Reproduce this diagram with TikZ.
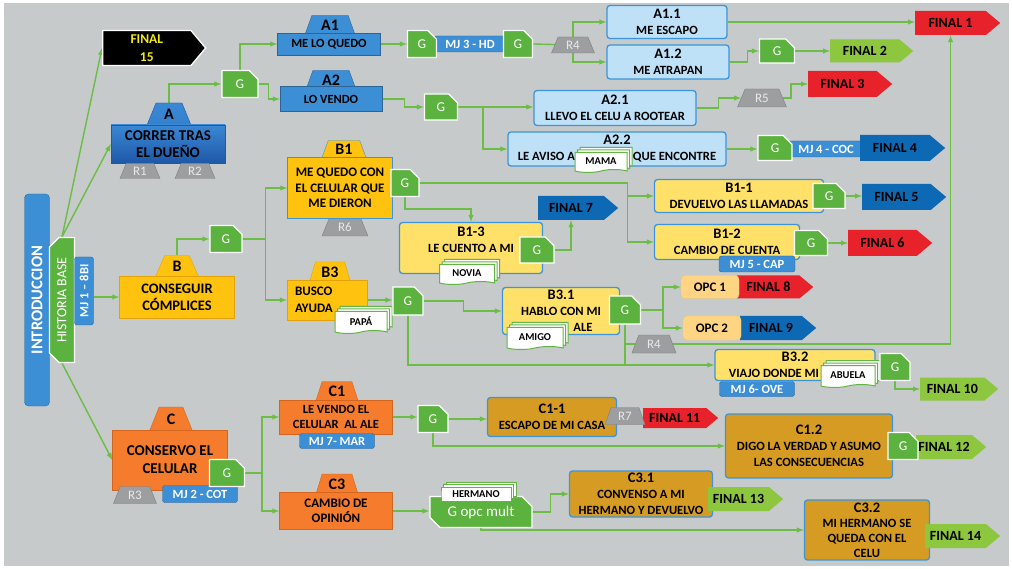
\documentclass[tikz,border=0pt]{standalone}
\usepackage{fontspec}
\setmainfont{Carlito}
\usepackage{graphicx}
\usetikzlibrary{shapes.geometric}
\usetikzlibrary{arrows,shapes,shadows}
\usetikzlibrary{calc,backgrounds}

\definecolor{bggray}{HTML}{C6CACB}
\definecolor{lnkgreen}{HTML}{6CBD45}
\definecolor{ggreen}{HTML}{5CB23F}
\definecolor{ablueT}{HTML}{3A88D4}
\definecolor{ablueB}{HTML}{1E58A8}
\definecolor{mblue}{HTML}{3D8FD5}
\definecolor{lblue}{HTML}{BFE1F8}
\definecolor{lborder}{HTML}{3C95DA}
\definecolor{fred}{HTML}{E8222B}
\definecolor{fgreen}{HTML}{8DC63F}
\definecolor{fblue}{HTML}{0D69B4}
\definecolor{fyellow}{HTML}{F3EA10}
\definecolor{byellow}{HTML}{FFC30F}
\definecolor{bborder}{HTML}{E3A20B}
\definecolor{lyellow}{HTML}{FFE169}
\definecolor{opcyel}{HTML}{FFD584}
\definecolor{corange}{HTML}{F47C2C}
\definecolor{cborder}{HTML}{D4651E}
\definecolor{dgold}{HTML}{D59B23}
\definecolor{rgray}{HTML}{9C9EA0}
\definecolor{rtext}{HTML}{E9E9E9}
\definecolor{docgreen}{HTML}{62B544}

\newcommand{\hd}[1]{{\fontsize{14.5}{15}\selectfont #1}}

\begin{document}
\begin{tikzpicture}[x=1pt, y=-1pt, >=latex,
            every node/.style = {align=center, inner sep=0pt},
            sz/.style 2 args = {minimum width=#1pt, minimum height=#2pt},
            link/.style = {draw=lnkgreen, line width=1.4pt},
            intro/.style = {rectangle, rounded corners=4pt, fill=mblue, draw=mblue!75!black, text=white, font=\bfseries\fontsize{16.5}{17}\selectfont},
            hist/.style = {chamfered rectangle, chamfered rectangle corners={north west, south west}, chamfered rectangle xsep=5pt, chamfered rectangle ysep=5pt, fill=ggreen, draw=white, line width=1.2pt, text=white, font=\fontsize{14}{14}\selectfont},
            gnode/.style = {chamfered rectangle, chamfered rectangle corners=north east, chamfered rectangle xsep=5pt, chamfered rectangle ysep=5pt, fill=ggreen, draw=white, line width=1.2pt, text=white, font=\fontsize{13.5}{14}\selectfont},
            mj/.style = {rectangle, rounded corners=2.5pt, fill=mblue, draw=mblue!70!black, text=white, font=\bfseries\fontsize{12.5}{13}\selectfont},
            rtag/.style = {trapezium, trapezium stretches=true, trapezium left angle=70, trapezium right angle=70, fill=rgray, draw=rgray!80!black, text=rtext, font=\fontsize{13}{13}\selectfont},
            tab/.style = {trapezium, trapezium stretches=true, trapezium left angle=72, trapezium right angle=72, font=\bfseries\fontsize{16}{16}\selectfont},
            fin/.style = {signal, signal to=east, signal pointer angle=80, anchor=west, font=\bfseries\fontsize{14}{14}\selectfont},
            abox/.style = {rectangle, top color=ablueT, bottom color=ablueB, draw=ablueB, font=\bfseries\fontsize{15}{17}\selectfont},
            bbox/.style = {rectangle, fill=mblue, draw=mblue!70!black, font=\bfseries\fontsize{12.5}{14}\selectfont},
            ybox/.style = {rectangle, fill=byellow, draw=bborder, font=\bfseries\fontsize{14.5}{17}\selectfont},
            obox/.style = {rectangle, fill=corange, draw=cborder, font=\bfseries\fontsize{13}{15}\selectfont},
            lbox/.style = {rectangle, rounded corners=3pt, line width=1.3pt, draw=lborder, font=\bfseries\fontsize{12.6}{16}\selectfont},
            opc/.style = {rectangle, rounded corners=4pt, fill=opcyel, draw=bborder!60, font=\bfseries\fontsize{13}{13}\selectfont},
            doc/.style = {tape, tape bend top=none, tape bend height=3pt, fill=white, draw=docgreen, line width=1pt, font=\bfseries\fontsize{10.5}{11}\selectfont,
                double copy shadow={shadow xshift=2.5pt, shadow yshift=2.5pt, fill=white, draw=docgreen, line width=1pt}}
            ]
            \useasboundingbox (0,0) rectangle (1012,569);
            \begin{pgfonlayer}{background}
                \fill[bggray] (4,3) rectangle (1009,566);
            \end{pgfonlayer}

            % base
            \node[intro, sz={25}{212}] (intro) at (37,300) {\rotatebox{90}{INTRODUCCION}};
            \node[hist, sz={25}{125}] (hist) at (62,300) {\rotatebox{90}{HISTORIA BASE}};
            \node[mj, sz={19}{68}] (mj1) at (84,291) {\rotatebox{90}{MJ 1 – 8BI}};
            \node[fin, signal pointer angle=100, fill=black, draw=white, line width=1.3pt, text=fyellow, font=\bfseries\fontsize{13.5}{18}\selectfont, sz={103}{35}] (fin15) at (102,48) {FINAL\\15};

            % rama A
            \node[tab, top color=ablueT, bottom color=ablueT!85!ablueB, draw=ablueB, sz={44}{22}] (atab) at (169,114) {A};
            \node[abox, sz={114}{38}] (a) at (168,144) {CORRER TRAS\\EL DUEÑO};
            \node[rtag, sz={40}{15}] (r1) at (140,171) {R1};
            \node[rtag, sz={40}{15}] (r2) at (195,171) {R2};
            \node[gnode, sz={36}{27}] (ga) at (240,84) {G};
            \node[tab, fill=mblue, draw=mblue!70!black, sz={50}{19}] (a1tab) at (330,25) {A1};
            \node[bbox, sz={103}{22}] (a1) at (329,44) {ME LO QUEDO};
            \node[tab, fill=mblue, draw=mblue!70!black, sz={50}{19}] (a2tab) at (331,80) {A2};
            \node[bbox, sz={102}{25}] (a2) at (331,99) {LO VENDO};
            \node[mj, sz={72}{16}] (mj3) at (470,44) {MJ 3 - HD};
            \node[gnode, sz={29}{27}] (g1a) at (422,44) {G};
            \node[gnode, sz={29}{27}] (g1b) at (518,44) {G};
            \node[rtag, sz={43}{16}] (r4a) at (573,45) {R4};
            \node[lbox, fill=lblue, sz={120}{33}] (a11) at (667,22) {\hd{A1.1}\\ME ESCAPO};
            \node[lbox, fill=lblue, sz={122}{34}] (a12) at (668,62) {\hd{A1.2}\\ME ATRAPAN};
            \node[fin, fill=fred, sz={85}{24}] (fin1) at (915,23) {FINAL 1};
            \node[gnode, sz={35}{24}] (g12) at (777,51) {G};
            \node[fin, fill=fgreen, sz={83}{23}] (fin2) at (830,51) {FINAL 2};
            \node[gnode, sz={33}{26}] (ga2) at (441,107) {G};
            \node[lbox, fill=lblue, sz={162}{35}] (a21) at (615,108) {\hd{A2.1}\\LLEVO EL CELU A ROOTEAR};
            \node[rtag, sz={49}{18}] (r5) at (762,98) {R5};
            \node[fin, fill=fred, sz={84}{26}] (fin3) at (808,84) {FINAL 3};
            \node[lbox, fill=lblue, sz={218}{34}] (a22) at (617,149) {\hd{A2.2}\\LE AVISO A\hspace*{58pt}QUE ENCONTRE};
            \node[doc, sz={52}{20}] (mama) at (601,161) {MAMA};
            \node[mj, sz={77}{16}] (mj4) at (826,149) {MJ 4 - COC};
            \node[gnode, sz={34}{25}] (g22) at (775,148) {G};
            \node[fin, fill=fblue, sz={85}{26}] (fin4) at (860,148) {FINAL 4};

            % rama B
            \node[tab, fill=byellow, draw=bborder, sz={43}{21}] (btab) at (177,266) {B};
            \node[ybox, sz={115}{42}] (b) at (177,297) {CONSEGUIR\\CÓMPLICES};
            \node[gnode, sz={32}{27}] (gb) at (226,239) {G};
            \node[rtag, sz={46}{18}] (r6) at (345,227) {R6};
            \node[tab, fill=byellow, draw=lborder, sz={44}{17}] (b1tab) at (344,149) {B1};
            \node[ybox, draw=lborder, sz={105}{61}, font=\bfseries\fontsize{13}{15.5}\selectfont] (b1) at (340,188) {ME QUEDO CON\\EL CELULAR QUE\\ME DIERON};
            \node[gnode, sz={28}{27}] (gb1) at (405,183) {G};
            \node[fin, fill=fblue, sz={80}{24}] (fin7) at (538,208) {FINAL 7};
            \node[lbox, fill=lyellow, sz={143}{51}] (b13) at (471,248) {\hd{B1-3}\\LE CUENTO A MI\\\mbox{}};
            \node[doc, sz={55}{20}] (novia) at (467,273) {NOVIA};
            \node[gnode, sz={34}{26}] (gb13) at (537,250) {G};
            \node[lbox, fill=lyellow, sz={169}{33}] (b11) at (739,196) {\hd{B1-1}\\DEVUELVO LAS LLAMADAS};
            \node[gnode, sz={32}{25}] (gb11) at (829,196) {G};
            \node[fin, fill=fblue, sz={84}{26}] (fin5) at (862,197) {FINAL 5};
            \node[lbox, fill=lyellow, sz={145}{35}] (b12) at (727,242) {\hd{B1-2}\\CAMBIO DE CUENTA};
            \node[mj, sz={76}{16}] (mj5) at (757,264) {MJ 5 - CAP};
            \node[gnode, sz={33}{25}] (gb12) at (811,243) {G};
            \node[fin, fill=fred, sz={84}{26}] (fin6) at (848,243) {FINAL 6};
            \node[tab, fill=byellow, draw=bborder, sz={41}{20}] (b3tab) at (330,272) {B3};
            \node[ybox, sz={80}{40}, text width=64pt, align=left, font=\bfseries\fontsize{13}{17}\selectfont] (b3) at (327,300) {BUSCO\\AYUDA};
            \node[doc, sz={52}{22}] (papa) at (361,321) {PAPÁ};
            \node[gnode, sz={30}{28}] (gb3) at (408,301) {G};
            \node[lbox, fill=lyellow, sz={117}{47}] (b31) at (561,311) {\hd{B3.1}\\HABLO CON MI\\\hspace*{44pt}ALE};
            \node[doc, sz={56}{22}] (amigo) at (535,337) {AMIGO};
            \node[gnode, sz={31}{28}] (gb31) at (625,310) {G};
            \node[fin, fill=fred, sz={76}{23}] (fin8) at (737,287) {FINAL 8};
            \node[opc, sz={58}{23}] (opc1) at (710,287) {OPC 1};
            \node[fin, fill=fblue, sz={76}{24}] (fin9) at (740,328) {FINAL 9};
            \node[opc, sz={58}{24}] (opc2) at (712,328) {OPC 2};
            \node[rtag, sz={44}{18}] (r4b) at (654,344) {R4};
            \node[lbox, fill=lyellow, sz={160}{31}] (b32) at (795,365) {\hd{B3.2}\\VIAJO DONDE MI\hspace*{42pt}};
            \node[mj, sz={75}{15}] (mj6) at (757,389) {MJ 6- OVE};
            \node[doc, sz={54}{22}] (abuela) at (848,375) {ABUELA};
            \node[gnode, sz={30}{27}] (gb32) at (895,367) {G};
            \node[fin, fill=fgreen, sz={78}{23}] (fin10) at (920,389) {FINAL 10};

            % rama C
            \node[tab, fill=corange, draw=cborder, sz={43}{24}] (ctab) at (171,419) {C};
            \node[obox, sz={115}{60}, font=\bfseries\fontsize{15}{18}\selectfont] (c) at (170,460) {CONSERVO EL\\CELULAR};
            \node[rtag, sz={43}{17}] (r3) at (135,495) {R3};
            \node[mj, sz={75}{17}] (mj2) at (200,494) {MJ 2 - COT};
            \node[gnode, sz={35}{27}] (gc) at (227,473) {G};
            \node[tab, fill=corange, draw=cborder, sz={42}{19}] (c1tab) at (337,391) {C1};
            \node[obox, sz={113}{34}, font=\bfseries\fontsize{12.5}{15}\selectfont] (c1) at (336,417) {LE VENDO EL\\CELULAR \ AL ALE};
            \node[mj, sz={75}{15}] (mj7) at (337,441) {MJ 7- MAR};
            \node[gnode, sz={30}{27}] (gc1) at (433,419) {G};
            \node[lbox, fill=dgold, sz={129}{39}] (c11) at (552,417) {\hd{C1-1}\\ESCAPO DE MI CASA};
            \node[fin, fill=fred, sz={75}{20}] (fin11) at (643,418) {FINAL 11};
            \node[rtag, sz={40}{17}] (r7) at (625,416) {R7};
            \node[lbox, fill=dgold, sz={167}{64}] (c12) at (809,446) {\hd{C1.2}\\DIGO LA VERDAD Y ASUMO\\LAS CONSECUENCIAS};
            \node[fin, fill=fgreen, sz={70}{24}] (fin12) at (916,447) {FINAL 12};
            \node[gnode, sz={30}{27}] (gc12) at (903,446) {G};
            \node[tab, fill=corange, draw=cborder, sz={42}{20}] (c3tab) at (337,484) {C3};
            \node[obox, sz={113}{37}] (c3) at (336,511) {CAMBIO DE\\OPINIÓN};
            \node[gnode, chamfered rectangle corners={north east, south west}, sz={102}{31}, font=\fontsize{15}{15}\selectfont] (gm) at (481,512) {G opc mult};
            \node[doc, tape bend bottom=none, sz={70}{14}] (herm) at (476,494) {HERMANO};
            \node[lbox, fill=dgold, sz={143}{46}] (c31) at (641,494) {\hd{C3.1}\\CONVENSO A MI\\HERMANO Y DEVUELVO};
            \node[fin, fill=fgreen, sz={75}{24}] (fin13) at (708,499) {FINAL 13};
            \node[lbox, fill=dgold, sz={125}{60}, font=\bfseries\fontsize{12.6}{15}\selectfont] (c32) at (867,530) {\hd{C3.2}\\MI HERMANO SE\\QUEDA CON EL\\CELU};
            \node[fin, fill=fgreen, sz={75}{24}] (fin14) at (925,536) {FINAL 14};

            % conexiones
            \begin{pgfonlayer}{background}
                \draw[link, ->] (hist.north) -- (fin15.west);
                \draw[link, ->] (hist.north) -- (a.west);
                \draw[link, ->] (hist.south) -- (c.west);
                \draw[link, ->] (mj1.east |- b.west) -- (b.west);
                \draw[link, ->] (atab.north) |- (ga.west);
                \draw[link, ->] (ga.north) |- (a1.west);
                \draw[link, ->] (ga.east) -- ++(10,0) |- (a2.west);
                \draw[link, ->] (a1.east) -- (g1a.west);
                \draw[link] (g1b.east) -- (r4a.center);
                \draw[link, ->] (r4a.center) |- (a11.west);
                \draw[link, ->] (r4a.center) |- (a12.west);
                \draw[link, ->] (a11.east) -- (a11.east -| fin1.west);
                \draw[link, ->] (a12.east) -- ++(18,0) |- (g12.west);
                \draw[link, ->] (g12.east) -- (fin2.west);
                \draw[link, ->] (a2.east) -- ++(22,0) |- (ga2.west);
                \draw[link, ->] (ga2.east) -- (ga2.east -| a21.west);
                \draw[link, ->] (ga2.east) -- ++(25,0) |- (a22.west);
                \draw[link, ->] (a21.east) -- ++(22,0) |- (r5.west);
                \draw[link, ->] (r5.east) -- ++(8,0) |- (fin3.west);
                \draw[link, ->] (a22.east) -- (a22.east -| g22.west);
                \draw[link, ->] (btab.north) |- (gb.west);
                \draw[link, ->] (gb.east) -- ++(23,0) |- (b1.west);
                \draw[link, ->] (gb.east) -- ++(23,0) |- (b3.west);
                \draw[link, ->] (gb1.east) -- ++(208,0) |- (b11.west);
                \draw[link, ->] (gb1.east) -- ++(208,0) |- (b12.west);
                \draw[link, ->] (gb1.south) -- ++(0,12) -| (b13.north);
                \draw[link, ->] (gb13.east) -| (fin7.south);
                \draw[link, ->] (gb11.east) -- (gb11.east -| fin5.west);
                \draw[link, ->] (gb12.east) -- (gb12.east -| fin6.west);
                \draw[link, ->] (b3.east) -- (b3.east -| gb3.west);
                \draw[link, ->] (gb3.east) -- ++(40,0) |- (b31.west);
                \draw[link, ->] (gb3.south) |- (b32.west);
                \draw[link] (gb31.south) -- (gb31.south |- b32.west);
                \draw[link] (gb31.south |- r4b.west) -- (r4b.west);
                \draw[link, ->] (r4b.east) -| (fin1.south);
                \draw[link, ->] (gb31.east) -- ++(22,0) |- (opc1.west);
                \draw[link, ->] (gb31.east) -- ++(22,0) |- (opc2.west);
                \draw[link, ->] (gb32.south) |- (fin10.west);
                \draw[link, ->] (gc.east) -- ++(17,0) |- (c1.west);
                \draw[link, ->] (gc.east) -- ++(17,0) |- (c3.west);
                \draw[link, ->] (c1.east) -- (c1.east -| gc1.west);
                \draw[link, ->] (gc1.east) -- (gc1.east -| c11.west);
                \draw[link, ->] (gc1.south) |- (c12.west);
                \draw[link, ->] (c3.east) -- (c3.east -| gm.west);
                \draw[link, ->] (gm.east) -- ++(18,0) |- (c31.west);
                \draw[link, ->] (gm.south) |- (c32.west);
            \end{pgfonlayer}
        \end{tikzpicture}
\end{document}
